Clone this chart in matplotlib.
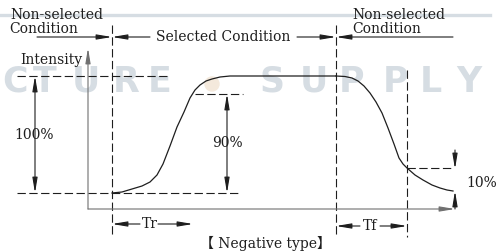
import matplotlib
matplotlib.use('Agg')
import matplotlib.pyplot as plt

plt.rcParams['font.family'] = ['DejaVu Serif']
plt.rcParams['lines.scale_dashes'] = False

# key instants (x) and intensity levels (y), in picture units
t_start, t_rise90, t_fall, t_fall10 = 112, 193, 336, 407
lvl_100, lvl_90, lvl_10, lvl_0 = 76, 94, 168, 193
axis_x, axis_y = 88, 209

# response curve (negative type)
rise_x = [112, 122, 132, 142, 150, 157, 163, 170, 177, 184, 190, 195,
          200, 206, 212, 220, 230, 245, 336]
rise_y = [193, 192, 189, 186, 182, 175, 164, 146, 127, 112, 98, 90,
          85, 81, 79, 77, 76, 76, 76]
fall_x = [336, 345, 352, 358, 364, 370, 376, 382, 388, 394, 399, 403,
          407, 415, 423, 432, 440, 447, 453]
fall_y = [76, 76.5, 78, 81, 86, 93, 102, 113, 128, 144, 158, 164,
          168, 175, 180, 185, 188, 190, 191]

# watermark
wm_letters = ['C', 'T', 'U', 'R', 'E', 'S', 'U', 'P', 'P', 'L', 'Y']
wm_x = [2, 45, 86, 126, 160, 272, 314, 352, 395, 431, 469]

ink = '#1e1e1e'
wm_color = '#d6dde3'
dash = (0, (6, 2.5))

fig = plt.figure(figsize=(5, 2.52), dpi=100)
ax = fig.add_axes([0, 0, 1, 1])
ax.set_xlim(0, 500)
ax.set_ylim(252, 0)
ax.axis('off')

# watermark
ax.plot([0, 490], [15, 15], color=wm_color, lw=2.4, zorder=0)
for i, (ch, x) in enumerate(zip(wm_letters, wm_x)):
    ax.text(x, 82, ch, family='DejaVu Sans', fontsize=25, fontweight='bold',
            color=wm_color, ha='left' if i == 0 else 'center', va='center', zorder=0)
ax.add_patch(plt.Circle((212, 84), 7, color='#f4e9dc', zorder=0))


def arrow(tip, tail, style='-|>', color=ink):
    ax.annotate('', xy=tip, xytext=tail,
                arrowprops=dict(arrowstyle=style + ',head_length=0.9,head_width=0.15',
                                mutation_scale=10, lw=0.8, color=color,
                                shrinkA=0, shrinkB=0))


# condition bar on top
arrow((t_start, 37), (37, 37))
arrow((t_start, 37), (150, 37))
arrow((t_fall, 37), (297, 37))
arrow((t_fall, 37), (453, 37))
ax.text(223, 37, 'Selected Condition', fontsize=10, ha='center', va='center', color=ink)
ax.text(10, 15, 'Non-selected', fontsize=10, ha='left', va='center', color=ink)
ax.text(9, 29, 'Condition', fontsize=10, ha='left', va='center', color=ink)
ax.text(352, 15, 'Non-selected', fontsize=10, ha='left', va='center', color=ink)
ax.text(352, 29, 'Condition', fontsize=10, ha='left', va='center', color=ink)

# dashed guides
ax.plot([t_start, t_start], [25, 237], color=ink, lw=0.8, ls=dash)
ax.plot([t_fall, t_fall], [25, 237], color=ink, lw=0.8, ls=dash)
ax.plot([t_fall10, t_fall10], [70, 237], color=ink, lw=0.8, ls=dash)
ax.plot([17, 170], [lvl_100, lvl_100], color=ink, lw=0.8, ls=dash)
ax.plot([17, 240], [lvl_0, lvl_0], color=ink, lw=0.8, ls=dash)
ax.plot([195, 243], [lvl_90, lvl_90], color=ink, lw=0.8, ls=dash)
ax.plot([t_fall10, 452], [lvl_10, lvl_10], color=ink, lw=0.8, ls=dash)

# axes of the diagram
arrow((axis_x, 48), (axis_x, axis_y), color='#707070')
arrow((455, axis_y), (axis_x, axis_y), color='#707070')
ax.text(82, 60, 'Intensity', fontsize=10, ha='right', va='center', color=ink)

# curve
ax.plot(rise_x, rise_y, color=ink, lw=0.9)
ax.plot(fall_x, fall_y, color=ink, lw=0.9)

# levels
arrow((35, lvl_100), (35, lvl_0), style='<|-|>')
ax.text(34, 135, '100%', fontsize=10, ha='center', va='center', color=ink)
arrow((227, lvl_90), (227, lvl_0), style='<|-|>')
ax.text(227, 143, '90%', fontsize=10, ha='center', va='center', color=ink)
arrow((455, lvl_10 + 1), (455, 150))
arrow((455, 191), (455, axis_y))
ax.text(482, 183, '10%', fontsize=10, ha='center', va='center', color=ink)

# rise / fall times
arrow((t_start, 224), (140, 224))
arrow((t_rise90, 224), (158, 224))
ax.text(150, 224, 'Tr', fontsize=10, ha='center', va='center', color=ink)
arrow((t_fall, 226), (360, 226))
arrow((t_fall10, 226), (380, 226))
ax.text(370, 226, 'Tf', fontsize=10, ha='center', va='center', color=ink)

ax.text(265, 243, '【 Negative type】', fontsize=10, ha='center', va='center',
        color=ink, family=['DejaVu Serif', 'Noto Sans CJK SC'])

fig.savefig('out.png', dpi=100)
